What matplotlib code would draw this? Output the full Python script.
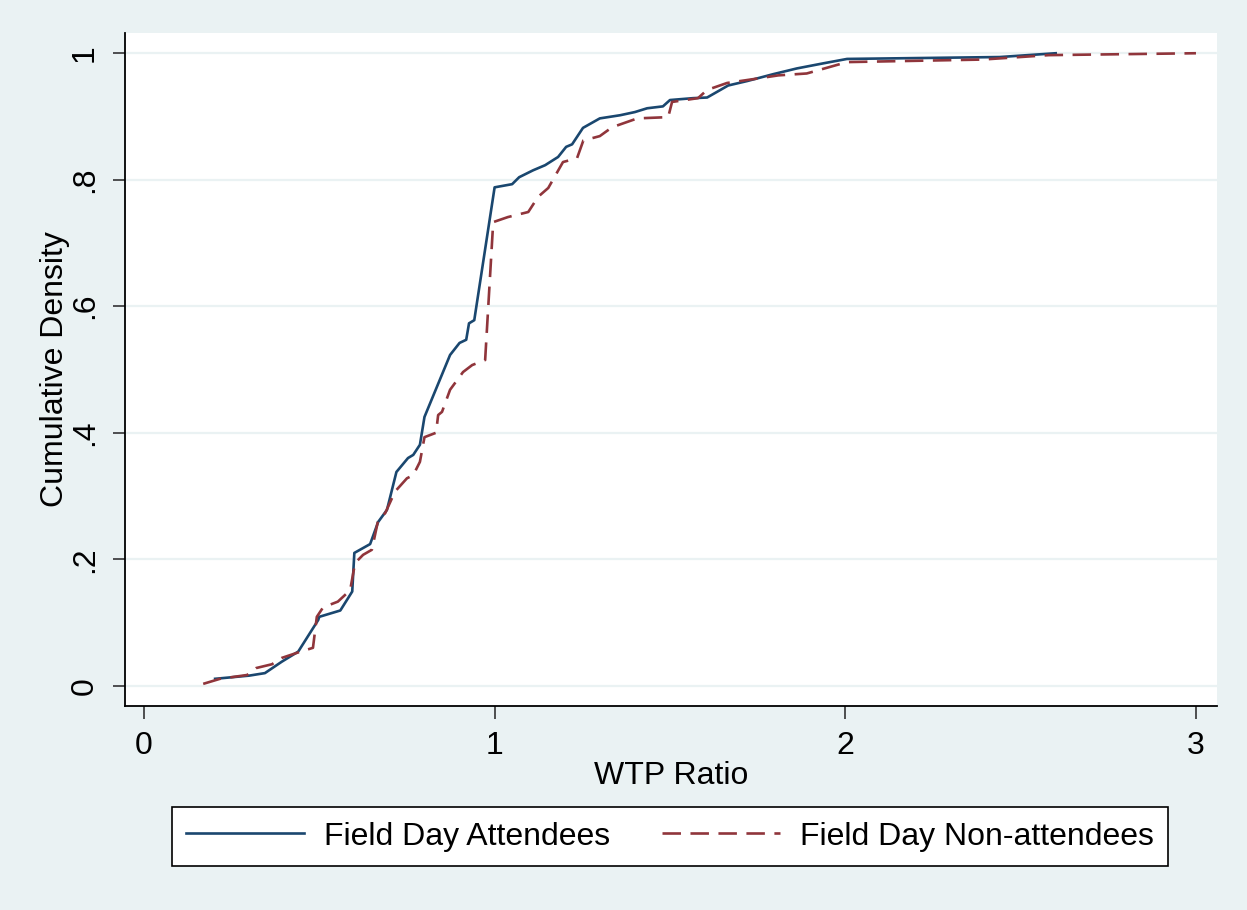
import matplotlib
matplotlib.use("Agg")
import matplotlib.pyplot as plt
from matplotlib.lines import Line2D

plt.rcParams['font.family'] = ['Liberation Sans', 'DejaVu Sans']

# Field Day Attendees (empirical CDF points)
att_x = [0.203, 0.30, 0.345, 0.393, 0.44, 0.497, 0.50, 0.56, 0.594, 0.60, 0.645,
         0.668, 0.693, 0.72, 0.753, 0.768, 0.787, 0.80, 0.873, 0.90, 0.919, 0.927,
         0.942, 1.0, 1.05, 1.07, 1.11, 1.144, 1.181, 1.204, 1.221, 1.252, 1.30,
         1.358, 1.40, 1.435, 1.48, 1.50, 1.566, 1.606, 1.666, 1.72, 1.795, 1.862,
         1.937, 2.005, 2.44, 2.60]
att_y = [0.011, 0.016, 0.020, 0.038, 0.054, 0.104, 0.109, 0.119, 0.149, 0.21, 0.224,
         0.259, 0.278, 0.338, 0.36, 0.365, 0.381, 0.425, 0.523, 0.542, 0.547, 0.573,
         0.578, 0.788, 0.793, 0.804, 0.815, 0.823, 0.836, 0.852, 0.856, 0.882, 0.897,
         0.902, 0.907, 0.913, 0.916, 0.926, 0.929, 0.930, 0.949, 0.956, 0.967, 0.976,
         0.984, 0.991, 0.994, 1.0]

# Field Day Non-attendees
non_x = [0.169, 0.217, 0.294, 0.32, 0.365, 0.393, 0.436, 0.482, 0.493, 0.511, 0.553,
         0.588, 0.602, 0.625, 0.65, 0.668, 0.688, 0.716, 0.75, 0.768, 0.787, 0.80,
         0.833, 0.839, 0.85, 0.873, 0.91, 0.936, 0.973, 0.996, 1.038, 1.096, 1.124,
         1.153, 1.195, 1.235, 1.253, 1.30, 1.335, 1.407, 1.495, 1.506, 1.58, 1.606,
         1.663, 1.737, 1.809, 1.89, 2.005, 2.39, 2.58, 3.0]
non_y = [0.003, 0.011, 0.017, 0.028, 0.034, 0.044, 0.052, 0.060, 0.109, 0.124, 0.133,
         0.151, 0.194, 0.207, 0.215, 0.262, 0.273, 0.307, 0.328, 0.333, 0.354, 0.393,
         0.40, 0.428, 0.433, 0.468, 0.496, 0.507, 0.515, 0.733, 0.741, 0.749, 0.773,
         0.787, 0.828, 0.834, 0.862, 0.869, 0.883, 0.897, 0.899, 0.923, 0.929, 0.942,
         0.953, 0.959, 0.965, 0.968, 0.986, 0.990, 0.997, 1.0]

x_ticks = [0, 1, 2, 3]
x_ticklabels = ["0", "1", "2", "3"]
y_ticks = [0, 0.2, 0.4, 0.6, 0.8, 1.0]
y_ticklabels = ["0", ".2", ".4", ".6", ".8", "1"]
series_labels = ["Field Day Attendees", "Field Day Non-attendees"]

BG = "#EAF2F3"
NAVY = "#1A476F"
MAROON = "#90353B"
FS = 23
LW = 1.9

W, H = 1247, 910
fig = plt.figure(figsize=(W / 100, H / 100), dpi=100, facecolor=BG)
ax = fig.add_axes([125 / W, 1 - 706 / H, (1217 - 125) / W, (706 - 33) / H])
ax.set_facecolor("white")

ax.plot(att_x, att_y, color=NAVY, lw=LW, solid_joinstyle="round")
ax.plot(non_x, non_y, color=MAROON, lw=LW, linestyle=(0, (7, 3.6)))

ax.set_xlim(-0.054, 3.06)
ax.set_ylim(-0.032, 1.032)

for yv in y_ticks:
    ax.axhline(yv, color=BG, lw=1.6, zorder=0)

ax.set_xticks(x_ticks)
ax.set_xticklabels(x_ticklabels, fontsize=FS)
ax.set_yticks(y_ticks)
ax.set_yticklabels(y_ticklabels, fontsize=FS, rotation=90, va="center")
ax.tick_params(axis="both", direction="out", length=9, width=1.2, color="#333333")
ax.tick_params(axis="x", pad=9)
ax.tick_params(axis="y", pad=9)

for s in ["top", "right"]:
    ax.spines[s].set_visible(False)
for s in ["left", "bottom"]:
    ax.spines[s].set_linewidth(1.3)
    ax.spines[s].set_color("black")

ax.set_xlabel("WTP Ratio", fontsize=FS, labelpad=0)
ax.set_ylabel("Cumulative Density", fontsize=FS, labelpad=0)

handles = [Line2D([], [], color=NAVY, lw=LW),
           Line2D([], [], color=MAROON, lw=LW, linestyle=(0, (7, 3.6)))]
leg = fig.legend(handles, series_labels, loc="lower left",
                 bbox_to_anchor=(172 / W, 1 - 866 / H, 996 / W, 58 / H),
                 mode="expand", ncol=2, fontsize=FS, frameon=True, fancybox=False,
                 framealpha=1, handlelength=3.67, handletextpad=0.63,
                 borderpad=0.45, borderaxespad=0)
leg.get_frame().set_edgecolor("black")
leg.get_frame().set_linewidth(1.2)
leg.get_frame().set_facecolor("white")

fig.savefig("out.png", dpi=100, facecolor=BG)
